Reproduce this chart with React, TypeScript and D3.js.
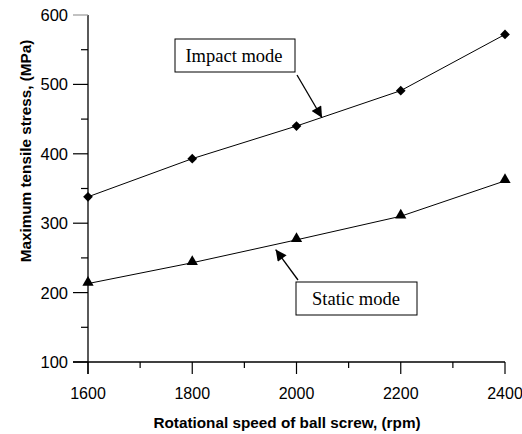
import React from 'react';
import * as d3 from 'd3';

const speeds = [1600, 1800, 2000, 2200, 2400];
const impactStress = [338, 393, 440, 491, 572];
const staticStress = [213, 243, 276, 310, 361];
const xTicks = [1600, 1800, 2000, 2200, 2400];
const yTicks = [100, 200, 300, 400, 500, 600];

const W = 522;
const H = 434;
const margin = { top: 15, right: 17, bottom: 72, left: 88 };

const App = () => {
  const x = d3.scaleLinear().domain([1600, 2400]).range([margin.left, W - margin.right]);
  const y = d3.scaleLinear().domain([100, 600]).range([H - margin.bottom, margin.top]);

  const line = d3.line<[number, number]>()
    .x(d => x(d[0]))
    .y(d => y(d[1]));

  const impactPts: [number, number][] = speeds.map((s, i) => [s, impactStress[i]]);
  const staticPts: [number, number][] = speeds.map((s, i) => [s, staticStress[i]]);

  const diamond = d3.symbol().type(d3.symbolDiamond2).size(60)();
  const triangle = d3.symbol().type(d3.symbolTriangle).size(55)();

  const minorX = d3.range(1700, 2400, 200);
  const minorY = d3.range(150, 600, 100);

  const x0 = margin.left;
  const y0 = H - margin.bottom;

  // annotation arrow tips
  const impTip = [x(2049), y(452)];
  const statTip = [x(1960), y(262)];

  const sans = 'Liberation Sans, Arial, sans-serif';
  const serif = 'Liberation Serif, Times New Roman, serif';

  return (
    <svg width={W} height={H} style={{ position: 'absolute', left: 0, top: 0 }}>
      <defs>
        <marker id="arr" viewBox="0 0 10 10" refX="10" refY="5" markerWidth="12" markerHeight="11" orient="auto" markerUnits="userSpaceOnUse">
          <path d="M0,0 L10,5 L0,10 z" fill="#000" />
        </marker>
      </defs>
      <rect width={W} height={H} fill="#fff" />

      {/* axes */}
      <line x1={x0} x2={x0} y1={margin.top} y2={y0 + 12} stroke="#000" strokeWidth={1.3} />
      <line x1={x0 - 15} x2={W - margin.right} y1={y0} y2={y0} stroke="#000" strokeWidth={1.3} />

      {yTicks.map(t => (
        <g key={t}>
          <line x1={x0 - 15} x2={x0} y1={y(t)} y2={y(t)} stroke={t === 600 ? '#999' : '#000'} strokeWidth={1.2} />
          <text x={x0 - 20} y={y(t)} dy="0.36em" textAnchor="end" fontFamily={sans} fontSize={16.5}>{t}</text>
        </g>
      ))}
      {minorY.map(t => (
        <line key={t} x1={x0 - 7} x2={x0} y1={y(t)} y2={y(t)} stroke="#000" strokeWidth={1.2} />
      ))}
      {xTicks.map(t => (
        <g key={t}>
          <line x1={x(t)} x2={x(t)} y1={y0} y2={y0 + 12} stroke="#000" strokeWidth={1.2} />
          <text x={x(t)} y={y0 + 37} textAnchor="middle" fontFamily={sans} fontSize={16}>{t}</text>
        </g>
      ))}
      {minorX.map(t => (
        <line key={t} x1={x(t)} x2={x(t)} y1={y0} y2={y0 + 6} stroke="#000" strokeWidth={1.2} />
      ))}

      {/* axis titles */}
      <text x={287} y={H - 6} textAnchor="middle" fontFamily={sans} fontWeight="bold" fontSize={15.3}>
        Rotational speed of ball screw, (rpm)
      </text>
      <text transform={`translate(31, 151) rotate(-90)`} textAnchor="middle" fontFamily={sans} fontWeight="bold" fontSize={15.3}>
        Maximum tensile stress, (MPa)
      </text>

      {/* series */}
      <path d={line(impactPts) || ''} fill="none" stroke="#000" strokeWidth={1} />
      <path d={line(staticPts) || ''} fill="none" stroke="#000" strokeWidth={1} />
      {impactPts.map((p, i) => (
        <path key={i} d={diamond || ''} transform={`translate(${x(p[0])},${y(p[1])})`} fill="#000" />
      ))}
      {staticPts.map((p, i) => (
        <path key={i} d={triangle || ''} transform={`translate(${x(p[0])},${y(p[1]) - 1})`} fill="#000" />
      ))}

      {/* annotations */}
      <rect x={175} y={39} width={120} height={33} fill="#fff" stroke="#000" strokeWidth={1} />
      <text x={234} y={62} textAnchor="middle" fontFamily={serif} fontSize={18.5}>Impact mode</text>
      <line x1={297} y1={75} x2={impTip[0]} y2={impTip[1]} stroke="#000" strokeWidth={1.3} markerEnd="url(#arr)" />

      <rect x={296} y={282} width={121} height={33} fill="#fff" stroke="#000" strokeWidth={1} />
      <text x={356} y={305} textAnchor="middle" fontFamily={serif} fontSize={18.5}>Static mode</text>
      <line x1={298} y1={280} x2={statTip[0]} y2={statTip[1]} stroke="#000" strokeWidth={1.3} markerEnd="url(#arr)" />
    </svg>
  );
};

export default App;
